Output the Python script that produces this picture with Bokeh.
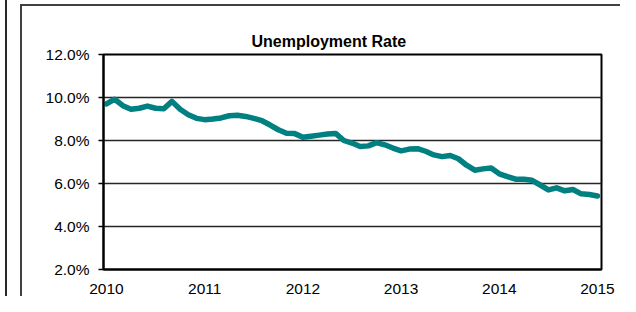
from bokeh.plotting import figure
from bokeh.models import ColumnDataSource, FixedTicker, Title
from bokeh.embed import file_html
from bokeh.resources import INLINE

# ---- data (monthly, Jan 2010 .. Jan 2015), percent ----
year_start = 2010
rate = [
    9.70, 9.92, 9.62, 9.45, 9.50, 9.60, 9.50, 9.48, 9.82, 9.45, 9.20, 9.03,
    8.97, 9.00, 9.05, 9.15, 9.17, 9.12, 9.03, 8.92, 8.72, 8.50, 8.34, 8.32,
    8.15, 8.20, 8.25, 8.30, 8.33, 8.00, 7.88, 7.72, 7.75, 7.90, 7.80, 7.65,
    7.52, 7.60, 7.62, 7.50, 7.33, 7.25, 7.30, 7.15, 6.85, 6.62, 6.68, 6.72,
    6.45, 6.32, 6.20, 6.20, 6.15, 5.93, 5.70, 5.80, 5.66, 5.72, 5.52, 5.49,
    5.42,
]
x_years = [year_start + i / 12 for i in range(len(rate))]
x_ticks = [2010, 2011, 2012, 2013, 2014, 2015]
y_ticks = [2, 4, 6, 8, 10, 12]
y_tick_labels = ["2.0%", "4.0%", "6.0%", "8.0%", "10.0%", "12.0%"]
title_text = "Unemployment Rate"

src = ColumnDataSource(dict(x=x_years, y=rate))

W, H = 620, 296
p = figure(width=W, height=H, output_backend="svg", toolbar_location=None,
           x_range=(2009.9695, 2015.0407), y_range=(2, 12),
           min_border_left=103, min_border_right=19,
           min_border_top=54, min_border_bottom=26,
           background_fill_color="white", border_fill_color=None)

# chart-area frame lines drawn as the figure's CSS background
p.styles = {
    "background": (
        "linear-gradient(#2a2a2a,#2a2a2a) 4.5px 0px / 2px 100% no-repeat, "
        "linear-gradient(#404040,#404040) 19.5px 4px / 2px 100% no-repeat, "
        "linear-gradient(#404040,#404040) 19.5px 4px / 100% 2px no-repeat, "
        "white"
    )
}

p.title = Title(text=title_text, align="left", offset=148,
                text_font="Liberation Sans", text_font_size="16px",
                text_font_style="bold", text_color="black", standoff=10)

p.outline_line_color = "black"
p.outline_line_width = 2

# grid
p.xgrid.visible = False
p.ygrid.ticker = FixedTicker(ticks=y_ticks)
p.ygrid.grid_line_color = "#262626"
p.ygrid.grid_line_width = 1.5

# y axis
p.yaxis.ticker = FixedTicker(ticks=y_ticks)
p.yaxis.major_label_overrides = dict(zip(y_ticks, y_tick_labels))
p.yaxis.minor_tick_line_color = None
p.yaxis.major_tick_in = 0
p.yaxis.major_tick_out = 5
p.yaxis.major_tick_line_width = 1.5
p.yaxis.major_tick_line_color = "black"
p.yaxis.axis_line_width = 2
p.yaxis.axis_line_color = "black"
p.yaxis.major_label_standoff = 9
p.yaxis.major_label_text_font = "Liberation Sans"
p.yaxis.major_label_text_font_size = "15.5px"
p.yaxis.major_label_text_color = "black"

# x axis
p.xaxis.ticker = FixedTicker(ticks=x_ticks)
p.xaxis.major_label_overrides = {t: str(t) for t in x_ticks}
p.xaxis.minor_tick_line_color = None
p.xaxis.major_tick_in = 0
p.xaxis.major_tick_out = 0
p.xaxis.axis_line_width = 2
p.xaxis.axis_line_color = "black"
p.xaxis.major_label_standoff = 14
p.xaxis.major_label_text_font = "Liberation Sans"
p.xaxis.major_label_text_font_size = "15.5px"
p.xaxis.major_label_text_color = "black"

p.line("x", "y", source=src, line_color="#008080", line_width=5.5,
       line_join="round", line_cap="round")

open("out.html", "w").write(file_html(p, INLINE))
